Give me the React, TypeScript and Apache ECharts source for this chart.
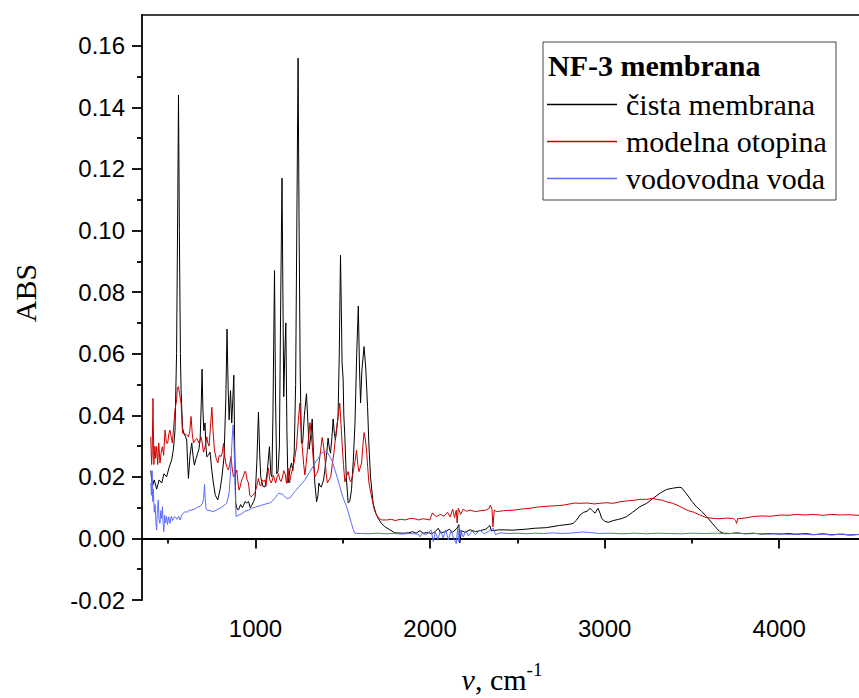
import React, { useEffect, useRef } from "react";
import * as echarts from "echarts";

const X_MIN = 350;
const X_MAX = 4457;
const Y_MIN = -0.02;
const Y_MAX = 0.17;

const xMajorTicks = [1000, 2000, 3000, 4000];
const xMinorTicks = [500, 1500, 2500, 3500];
const yMajorTicks = [-0.02, 0, 0.02, 0.04, 0.06, 0.08, 0.1, 0.12, 0.14, 0.16];
const yMinorTicks = [-0.01, 0.01, 0.03, 0.05, 0.07, 0.09, 0.11, 0.13, 0.15];

const seriesNames = ["čista membrana", "modelna otopina", "vodovodna voda"];
const legendTitle = "NF-3 membrana";

const cistaMembrana: [number, number][] = [
  [400,0.022],[410,0.017],[420,0.019],[434,0.016],[448,0.019],[463,0.018],[476,0.021],[491,0.020],[505,0.023],[520,0.0255],[530,0.029],[539,0.035],[548,0.06],[555,0.11],[559,0.144],[564,0.1],[570,0.06],[574,0.048],[582,0.036],[590,0.034],[600,0.033],[606,0.032],[611,0.025],[616,0.0195],[625,0.027],[635,0.031],[642,0.027],[650,0.0238],[660,0.026],[669,0.0277],[676,0.029],[683,0.032],[690,0.045],[694,0.055],[699,0.042],[704,0.035],[711,0.0375],[716,0.030],[721,0.0265],[730,0.027],[740,0.028],[750,0.022],[759,0.018],[770,0.014],[784,0.0125],[797,0.0158],[808,0.020],[820,0.0265],[830,0.045],[837,0.068],[843,0.05],[849,0.0385],[857,0.048],[864,0.0375],[870,0.045],[876,0.053],[881,0.03],[887,0.0115],[895,0.0095],[903,0.0093],[915,0.011],[925,0.010],[932,0.0108],[940,0.012],[950,0.0115],[960,0.012],[970,0.010],[979,0.0108],[990,0.012],[998,0.0135],[1008,0.025],[1017,0.041],[1024,0.028],[1030,0.020],[1042,0.017],[1055,0.0167],[1068,0.022],[1080,0.0298],[1088,0.021],[1094,0.020],[1100,0.04],[1109,0.087],[1115,0.045],[1122,0.021],[1130,0.022],[1137,0.03],[1145,0.08],[1152,0.117],[1157,0.08],[1162,0.046],[1168,0.06],[1174,0.070],[1180,0.035],[1186,0.018],[1192,0.020],[1198,0.0227],[1206,0.0245],[1214,0.022],[1222,0.028],[1230,0.05],[1238,0.11],[1244,0.156],[1250,0.1],[1256,0.055],[1263,0.031],[1270,0.031],[1280,0.04],[1292,0.047],[1300,0.038],[1308,0.029],[1318,0.034],[1325,0.0388],[1332,0.028],[1340,0.018],[1350,0.0119],[1358,0.014],[1363,0.018],[1370,0.017],[1377,0.0167],[1390,0.019],[1397,0.022],[1407,0.027],[1416,0.0326],[1424,0.029],[1430,0.0277],[1438,0.033],[1445,0.0388],[1452,0.034],[1458,0.032],[1466,0.036],[1473,0.0396],[1480,0.06],[1487,0.092],[1493,0.07],[1496,0.057],[1502,0.052],[1506,0.04],[1512,0.033],[1520,0.02],[1531,0.0115],[1540,0.012],[1550,0.0158],[1560,0.025],[1570,0.0375],[1580,0.06],[1589,0.0755],[1596,0.055],[1602,0.044],[1610,0.055],[1622,0.0623],[1632,0.055],[1642,0.0428],[1650,0.03],[1659,0.020],[1674,0.0114],[1690,0.008],[1703,0.0065],[1720,0.005],[1741,0.0038],[1770,0.0028],[1798,0.0018],[1846,0.0017],[1875,0.0018],[1900,0.0022],[1920,0.0017],[1942,0.0025],[1960,0.0017],[1990,0.0019],[2009,0.0015],[2030,0.0022],[2047,0.0033],[2060,0.0018],[2090,0.0022],[2110,0.003],[2130,0.002],[2154,0.0033],[2165,0.0045],[2170,-0.0015],[2180,0.0025],[2200,0.002],[2230,0.0028],[2260,0.0022],[2285,0.0025],[2320,0.003],[2343,0.0042],[2350,0.0025],[2400,0.0028],[2476,0.0027],[2550,0.003],[2600,0.0033],[2667,0.0035],[2740,0.0042],[2800,0.0046],[2820,0.0049],[2840,0.006],[2859,0.0076],[2880,0.0085],[2900,0.0088],[2916,0.0098],[2930,0.009],[2945,0.0082],[2962,0.0098],[2975,0.008],[2983,0.0065],[3000,0.0056],[3020,0.0052],[3049,0.0058],[3080,0.0062],[3100,0.0065],[3126,0.0071],[3160,0.0085],[3202,0.0103],[3241,0.0114],[3277,0.013],[3320,0.0148],[3355,0.0159],[3390,0.0163],[3422,0.0166],[3440,0.0165],[3469,0.0145],[3500,0.012],[3526,0.0103],[3555,0.0088],[3584,0.0071],[3615,0.005],[3641,0.0033],[3660,0.0022],[3679,0.0017],[3720,0.0016],[3760,0.0018],[3800,0.0015],[3850,0.0017],[3900,0.0014],[3950,0.0016],[4000,0.0014],[4050,0.0016],[4100,0.0013],[4150,0.0016],[4200,0.0012],[4250,0.0015],[4300,0.0012],[4350,0.0014],[4400,0.0011],[4457,0.0013]
];

const modelnaOtopina: [number, number][] = [
  [400,0.033],[405,0.024],[408,0.027],[413,0.0455],[418,0.024],[424,0.030],[428,0.026],[434,0.0298],[440,0.024],[446,0.031],[453,0.0245],[460,0.028],[467,0.0298],[474,0.027],[482,0.0352],[490,0.031],[497,0.0309],[504,0.034],[510,0.0352],[517,0.033],[524,0.031],[531,0.036],[539,0.0417],[548,0.045],[553,0.049],[559,0.0493],[565,0.047],[574,0.0439],[582,0.0342],[594,0.034],[606,0.0336],[616,0.033],[624,0.035],[631,0.0396],[638,0.034],[645,0.031],[655,0.032],[664,0.0325],[676,0.031],[688,0.033],[695,0.031],[702,0.028],[712,0.03],[721,0.033],[727,0.031],[734,0.030],[742,0.036],[750,0.0426],[757,0.035],[765,0.0287],[775,0.026],[784,0.0245],[793,0.027],[803,0.0266],[810,0.028],[817,0.0309],[823,0.027],[830,0.0245],[838,0.023],[845,0.0222],[852,0.024],[860,0.0266],[866,0.023],[874,0.020],[884,0.021],[893,0.0222],[900,0.018],[906,0.0157],[913,0.017],[921,0.019],[930,0.02],[938,0.0217],[944,0.0217],[952,0.019],[960,0.018],[967,0.0141],[975,0.0135],[985,0.014],[998,0.015],[1008,0.017],[1017,0.0195],[1024,0.0175],[1030,0.017],[1038,0.019],[1046,0.0185],[1053,0.019],[1060,0.017],[1067,0.02],[1074,0.0228],[1082,0.019],[1090,0.018],[1097,0.019],[1103,0.0205],[1110,0.019],[1116,0.018],[1124,0.02],[1132,0.021],[1140,0.019],[1147,0.0185],[1155,0.02],[1162,0.022],[1170,0.021],[1178,0.0179],[1186,0.0228],[1195,0.018],[1205,0.021],[1216,0.0233],[1225,0.026],[1235,0.0298],[1245,0.038],[1254,0.0439],[1261,0.036],[1268,0.0298],[1276,0.024],[1283,0.0206],[1290,0.024],[1298,0.029],[1305,0.033],[1312,0.0376],[1319,0.034],[1326,0.0298],[1333,0.024],[1340,0.020],[1350,0.021],[1359,0.0222],[1370,0.027],[1382,0.0328],[1390,0.03],[1397,0.0266],[1405,0.021],[1412,0.018],[1421,0.019],[1431,0.020],[1440,0.024],[1450,0.028],[1457,0.032],[1464,0.0352],[1474,0.04],[1483,0.0439],[1490,0.037],[1496,0.0309],[1504,0.024],[1512,0.0184],[1521,0.02],[1531,0.0217],[1540,0.019],[1547,0.0184],[1554,0.02],[1560,0.0217],[1570,0.025],[1579,0.0287],[1586,0.024],[1593,0.0217],[1600,0.023],[1608,0.0245],[1615,0.03],[1622,0.0344],[1630,0.032],[1636,0.0287],[1643,0.023],[1650,0.018],[1660,0.015],[1669,0.0125],[1680,0.0095],[1694,0.0076],[1708,0.0065],[1723,0.006],[1750,0.006],[1780,0.0062],[1800,0.0058],[1830,0.0062],[1857,0.006],[1880,0.0064],[1903,0.0065],[1934,0.006],[1960,0.0064],[1999,0.006],[2005,0.007],[2014,0.0083],[2025,0.0075],[2037,0.0071],[2060,0.0078],[2080,0.0072],[2100,0.0085],[2115,0.007],[2130,0.0095],[2140,0.0068],[2150,0.0092],[2155,0.005],[2162,0.0098],[2175,0.0078],[2190,0.0095],[2208,0.0088],[2230,0.0092],[2260,0.0087],[2290,0.009],[2320,0.0092],[2340,0.0098],[2345,0.0108],[2355,0.0095],[2360,0.0038],[2368,0.0092],[2381,0.0087],[2420,0.009],[2480,0.0092],[2520,0.0095],[2572,0.0098],[2620,0.0102],[2680,0.0105],[2720,0.0106],[2763,0.0108],[2800,0.0112],[2830,0.0115],[2858,0.0114],[2900,0.0115],[2940,0.0112],[2973,0.0114],[3010,0.0116],[3049,0.0114],[3088,0.0119],[3130,0.0122],[3170,0.0124],[3202,0.0127],[3241,0.0127],[3277,0.013],[3298,0.0127],[3330,0.0124],[3354,0.0119],[3390,0.0114],[3420,0.0107],[3450,0.0098],[3480,0.009],[3510,0.0085],[3546,0.0076],[3580,0.0068],[3622,0.0065],[3660,0.0064],[3700,0.0066],[3737,0.0065],[3750,0.0058],[3756,0.0049],[3762,0.0064],[3800,0.0066],[3852,0.0071],[3900,0.0073],[3950,0.0072],[4005,0.0076],[4050,0.0075],[4100,0.0078],[4150,0.0076],[4196,0.0078],[4250,0.0075],[4300,0.0078],[4350,0.0076],[4400,0.0077],[4457,0.0075]
];

const vodovodnaVoda: [number, number][] = [
  [400,0.018],[404,0.014],[408,0.022],[411,0.012],[415,0.016],[420,0.0085],[425,0.011],[430,0.005],[434,0.0027],[438,0.009],[443,0.0125],[448,0.006],[453,0.0049],[458,0.009],[462,0.0065],[467,0.0103],[471,0.005],[475,0.0022],[480,0.0075],[485,0.005],[491,0.0071],[496,0.0045],[503,0.007],[510,0.0049],[518,0.0072],[525,0.0058],[532,0.0068],[539,0.0071],[550,0.0062],[560,0.0072],[568,0.006],[580,0.0078],[597,0.0087],[610,0.0085],[620,0.0092],[635,0.0092],[650,0.0095],[660,0.0098],[673,0.0103],[685,0.0105],[696,0.0114],[703,0.013],[708,0.0176],[712,0.013],[717,0.0095],[723,0.0092],[740,0.009],[759,0.0087],[775,0.0092],[797,0.0098],[815,0.0105],[835,0.0114],[849,0.0147],[858,0.022],[864,0.0298],[869,0.035],[872,0.0369],[876,0.032],[880,0.024],[884,0.015],[889,0.0071],[900,0.0075],[921,0.008],[940,0.0088],[960,0.0092],[979,0.0098],[1000,0.0102],[1020,0.0105],[1036,0.0108],[1060,0.0112],[1080,0.0115],[1094,0.012],[1110,0.013],[1125,0.0142],[1132,0.0147],[1145,0.0145],[1151,0.0145],[1165,0.0138],[1178,0.013],[1189,0.013],[1200,0.0133],[1225,0.0152],[1250,0.0168],[1283,0.019],[1310,0.0215],[1340,0.0244],[1360,0.026],[1377,0.0277],[1397,0.0282],[1410,0.028],[1426,0.0266],[1440,0.025],[1455,0.0222],[1470,0.0195],[1483,0.0168],[1500,0.0135],[1522,0.0103],[1535,0.0078],[1550,0.0049],[1560,0.0028],[1569,0.0017],[1600,0.0016],[1646,0.0015],[1700,0.0017],[1742,0.0015],[1790,0.0016],[1837,0.0014],[1880,0.0016],[1933,0.0014],[1942,0.0005],[1955,0.0017],[1975,0.0012],[1990,0.0017],[2005,0.0028],[2019,-0.001],[2030,0.0022],[2045,-0.0003],[2060,0.0025],[2075,0.0002],[2090,0.0028],[2105,-0.0005],[2120,0.0025],[2135,0.0],[2150,-0.0017],[2158,0.0032],[2165,-0.0012],[2175,0.0028],[2190,0.0005],[2205,0.0025],[2220,0.0008],[2240,0.0025],[2260,0.0012],[2285,0.0027],[2310,0.0015],[2340,0.0025],[2362,0.0033],[2375,0.0012],[2400,0.0018],[2450,0.0016],[2500,0.0017],[2550,0.0015],[2600,0.0017],[2650,0.0016],[2700,0.0018],[2760,0.0016],[2820,0.0018],[2870,0.0021],[2920,0.0019],[2970,0.0016],[3030,0.0017],[3100,0.0015],[3170,0.0017],[3240,0.0015],[3300,0.0017],[3370,0.0016],[3440,0.0015],[3500,0.0017],[3570,0.0016],[3640,0.0017],[3700,0.0015],[3760,0.0017],[3820,0.0015],[3880,0.0016],[3940,0.0014],[4000,0.0016],[4060,0.0013],[4120,0.0015],[4180,0.0012],[4240,0.0014],[4300,0.0011],[4360,0.0014],[4420,0.0011],[4457,0.0013]
];

const seriesData = [cistaMembrana, modelnaOtopina, vodovodnaVoda];
const seriesColors = ["#000000", "#cc0000", "#5b6cff"];

const SANS = "'Liberation Sans', Arial, sans-serif";
const SERIF = "'Liberation Serif', 'Times New Roman', serif";

export default function App() {
  const ref = useRef<HTMLDivElement>(null);

  useEffect(() => {
    if (!ref.current) return;
    const chart = echarts.init(ref.current, null, { renderer: "svg" });
    const axisLineStyle = { color: "#000", width: 1.8 };
    chart.setOption({
      animation: false,
      backgroundColor: "#fff",
      grid: { left: 142, top: 15, right: 0, bottom: 98, containLabel: false },
      xAxis: [
        {
          type: "value",
          min: X_MIN,
          max: X_MAX,
          position: "bottom",
          axisLine: { show: true, lineStyle: axisLineStyle },
          axisTick: { show: true, inside: false, length: 10, customValues: xMajorTicks, lineStyle: axisLineStyle },
          axisLabel: {
            show: true,
            customValues: xMajorTicks,
            formatter: (v: number) => String(Math.round(v)),
            color: "#000",
            fontFamily: SANS,
            fontSize: 24,
            margin: 16,
          },
          splitLine: { show: false },
        },
        {
          type: "value",
          min: X_MIN,
          max: X_MAX,
          position: "bottom",
          axisLine: { show: false },
          axisTick: { show: true, inside: false, length: 5, customValues: xMinorTicks, lineStyle: axisLineStyle },
          axisLabel: { show: false },
          splitLine: { show: false },
        },
        {
          type: "value",
          min: X_MIN,
          max: X_MAX,
          position: "top",
          axisLine: { show: true, lineStyle: { color: "#000", width: 1.5 } },
          axisTick: { show: false },
          axisLabel: { show: false },
          splitLine: { show: false },
        },
      ],
      yAxis: [
        {
          type: "value",
          min: Y_MIN,
          max: Y_MAX,
          position: "left",
          axisLine: { show: true, lineStyle: axisLineStyle },
          axisTick: { show: true, inside: false, length: 10, customValues: yMajorTicks, lineStyle: axisLineStyle },
          axisLabel: {
            show: true,
            customValues: yMajorTicks,
            formatter: (v: number) => v.toFixed(2),
            color: "#000",
            fontFamily: SANS,
            fontSize: 24,
            margin: 17,
          },
          splitLine: { show: false },
        },
        {
          type: "value",
          min: Y_MIN,
          max: Y_MAX,
          position: "left",
          axisLine: { show: false },
          axisTick: { show: true, inside: false, length: 5, customValues: yMinorTicks, lineStyle: axisLineStyle },
          axisLabel: { show: false },
          splitLine: { show: false },
        },
      ],
      legend: {
        show: true,
        orient: "vertical",
        left: 547,
        top: 89,
        padding: 0,
        icon: "rect",
        itemWidth: 70,
        itemHeight: 1.5,
        itemGap: 6,
        selectedMode: false,
        itemStyle: { borderWidth: 0 },
        lineStyle: { width: 0 },
        data: seriesNames.map((name, i) => ({
          name,
          itemStyle: { color: seriesColors[i], borderWidth: 0 },
        })),
        textStyle: {
          color: "#000",
          fontFamily: SERIF,
          fontSize: 30,
          lineHeight: 31,
          padding: [0, 0, 0, 4],
        },
      },
      graphic: [
        {
          type: "rect",
          shape: { x: 543, y: 42, width: 293, height: 158 },
          style: { fill: "none", stroke: "#444", lineWidth: 1 },
          silent: true,
        },
        {
          type: "text",
          x: 548,
          y: 65,
          style: {
            text: legendTitle,
            font: `bold 30px ${SERIF}`,
            fill: "#000",
            verticalAlign: "middle",
            align: "left",
          },
          silent: true,
        },
        {
          type: "text",
          x: 25,
          y: 293,
          rotation: Math.PI / 2,
          style: {
            text: "ABS",
            font: `30px ${SERIF}`,
            fill: "#000",
            align: "center",
            verticalAlign: "middle",
          },
          silent: true,
        },
        {
          type: "text",
          x: 502,
          y: 677,
          style: {
            text: "{i|ν}{n|, cm}{s|-1}",
            align: "center",
            verticalAlign: "middle",
            rich: {
              i: { fontFamily: SERIF, fontStyle: "italic", fontSize: 30, lineHeight: 34, fill: "#000", verticalAlign: "bottom" },
              n: { fontFamily: SERIF, fontSize: 30, lineHeight: 34, fill: "#000", verticalAlign: "bottom" },
              s: { fontFamily: SERIF, fontSize: 19, lineHeight: 19, fill: "#000", verticalAlign: "top" },
            },
          },
          silent: true,
        },
      ],
      series: seriesNames.map((name, i) => ({
        name,
        type: "line",
        xAxisIndex: 0,
        yAxisIndex: 0,
        data: seriesData[i],
        showSymbol: false,
        symbol: "none",
        clip: true,
        lineStyle: { color: seriesColors[i], width: 1 },
        itemStyle: { color: seriesColors[i] },
        emphasis: { disabled: true },
      })),
    });
    return () => chart.dispose();
  }, []);

  return (
    <div
      ref={ref}
      style={{ position: "fixed", left: 0, top: 0, width: 859, height: 698, background: "#fff" }}
    />
  );
}
